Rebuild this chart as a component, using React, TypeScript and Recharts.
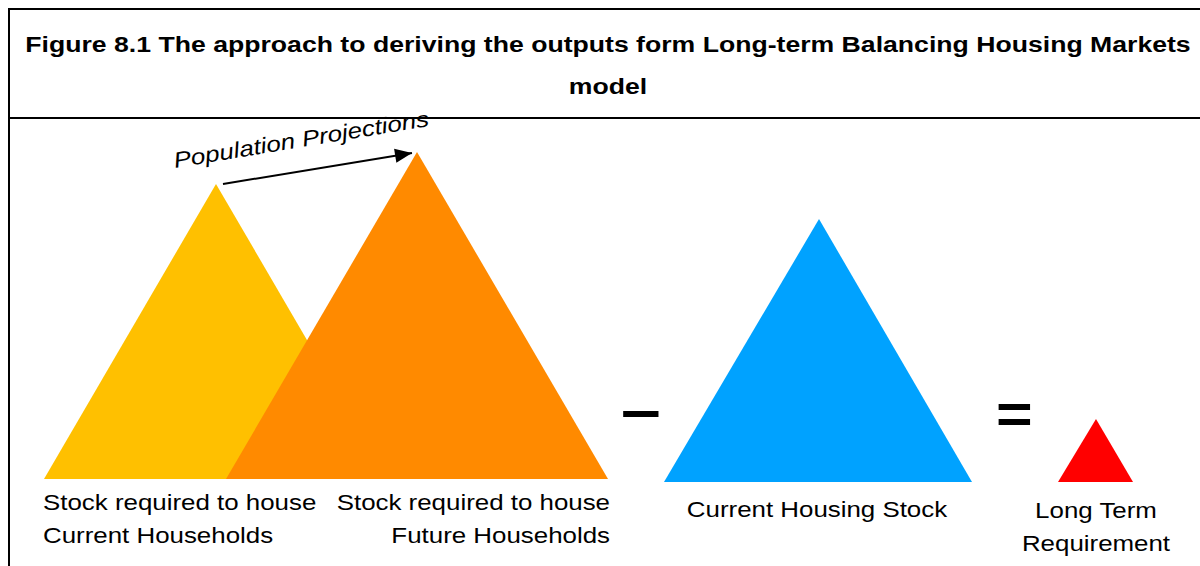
import React from 'react'
import { ComposedChart, Area, Line, XAxis, YAxis } from 'recharts'

// Triangle corners (x across, y down from the top edge)
const yellowX = [44, 216, 388]
const yellowY = [479, 184, 479]
const orangeX = [226, 417, 608]
const orangeY = [479, 152, 479]
const blueX = [664, 819, 972]
const blueY = [482, 219, 482]
const redX = [1058, 1096, 1133]
const redY = [482, 419, 482]
const arrowX = [223, 412]
const arrowY = [184, 153]

const titleLines = [
  'Figure 8.1 The approach to deriving the outputs form Long-term Balancing Housing Markets',
  'model',
]

type Row = { x: number; [k: string]: number }

function buildRows() {
  const rows: Row[] = []
  const add = (key: string, xs: number[], ys: number[]) =>
    xs.forEach((x, i) => rows.push({ x, [key]: ys[i] }))
  add('yellow', yellowX, yellowY)
  add('orange', orangeX, orangeY)
  add('blue', blueX, blueY)
  add('red', redX, redY)
  add('arrow', arrowX, arrowY)
  return rows.sort((a, b) => a.x - b.x)
}

const rows = buildRows()

const font = '"Liberation Sans", Arial, sans-serif'

function ArrowHead(props: any) {
  const { cx, cy, payload } = props
  if (cx == null || cy == null || payload?.x !== arrowX[1]) return <g key={`d-${props.index}`} />
  const ang = Math.atan2(arrowY[1] - arrowY[0], arrowX[1] - arrowX[0])
  const len = 17
  const half = 7
  const bx = cx - len * Math.cos(ang)
  const by = cy - len * Math.sin(ang)
  const px = -Math.sin(ang) * half
  const py = Math.cos(ang) * half
  return (
    <polygon
      key={`d-${props.index}`}
      points={`${cx},${cy} ${bx + px},${by + py} ${bx - px},${by - py}`}
      fill="#000"
    />
  )
}

// the source picture is stretched sideways, so text gets a scaleX
const label = (style: React.CSSProperties, origin = 'left'): React.CSSProperties => ({
  position: 'absolute',
  fontFamily: font,
  fontSize: 22.5,
  lineHeight: '33px',
  color: '#000',
  whiteSpace: 'nowrap',
  transform: 'scaleX(1.15)',
  transformOrigin: `${origin} center`,
  ...style,
})

export default function App() {
  return (
    <div
      style={{
        position: 'absolute',
        left: 0,
        top: 0,
        width: 1200,
        height: 566,
        overflow: 'hidden',
        background: '#fff',
      }}
    >
      {/* title box */}
      <div
        style={{
          position: 'absolute',
          left: 8,
          top: 8,
          width: 1196,
          height: 107,
          border: '2px solid #000',
        }}
      />
      <div style={{ position: 'absolute', left: 8, top: 117, width: 2, height: 449, background: '#000' }} />
      <div
        style={{
          position: 'absolute',
          left: 10,
          top: 24,
          width: 1196,
          textAlign: 'center',
          fontFamily: font,
          fontWeight: 'bold',
          fontSize: 22.5,
          lineHeight: '42px',
          transform: 'scaleX(1.183)',
          transformOrigin: '598px center',
        }}
      >
        {titleLines.map((t) => (
          <div key={t}>{t}</div>
        ))}
      </div>

      <div style={{ position: 'absolute', left: 0, top: 0 }}>
        <ComposedChart width={1200} height={566} data={rows} margin={{ top: 0, right: 0, bottom: 0, left: 0 }}>
          <XAxis dataKey="x" type="number" domain={[0, 1200]} hide />
          <YAxis type="number" domain={[0, 566]} reversed hide />
          <Area
            dataKey="yellow"
            type="linear"
            baseValue={yellowY[0]}
            fill="#FFC000"
            fillOpacity={1}
            stroke="none"
            connectNulls
            dot={false}
            activeDot={false}
            isAnimationActive={false}
          />
          <Area
            dataKey="orange"
            type="linear"
            baseValue={orangeY[0]}
            fill="#FF8A00"
            fillOpacity={1}
            stroke="none"
            connectNulls
            dot={false}
            activeDot={false}
            isAnimationActive={false}
          />
          <Area
            dataKey="blue"
            type="linear"
            baseValue={blueY[0]}
            fill="#00A2FF"
            fillOpacity={1}
            stroke="none"
            connectNulls
            dot={false}
            activeDot={false}
            isAnimationActive={false}
          />
          <Area
            dataKey="red"
            type="linear"
            baseValue={redY[0]}
            fill="#FF0000"
            fillOpacity={1}
            stroke="none"
            connectNulls
            dot={false}
            activeDot={false}
            isAnimationActive={false}
          />
          <Line
            dataKey="arrow"
            type="linear"
            stroke="#000"
            strokeWidth={2}
            connectNulls
            dot={ArrowHead}
            activeDot={false}
            isAnimationActive={false}
          />
        </ComposedChart>
      </div>

      <div
        style={{
          position: 'absolute',
          left: 175,
          top: 149,
          fontFamily: font,
          fontSize: 22,
          lineHeight: '24px',
          fontStyle: 'italic',
          whiteSpace: 'nowrap',
          transform: 'rotate(-9.4deg) scaleX(1.18)',
          transformOrigin: '0 19px',
        }}
      >
        Population Projections
      </div>

      <div style={label({ left: 43, top: 486 })}>
        Stock required to house
        <br />
        Current Households
      </div>
      <div style={label({ left: 310, width: 300, top: 486, textAlign: 'right' }, 'right')}>
        Stock required to house
        <br />
        Future Households
      </div>
      <div style={label({ left: 667, width: 300, top: 493, textAlign: 'center' }, 'center')}>
        Current Housing Stock
      </div>
      <div style={label({ left: 996, width: 200, top: 494, textAlign: 'center' }, 'center')}>
        Long Term
        <br />
        Requirement
      </div>

      <div
        style={{
          position: 'absolute',
          left: 621,
          top: 378,
          fontFamily: font,
          fontWeight: 'bold',
          fontSize: 62,
          lineHeight: '62px',
          transform: 'scaleX(1.15)',
          transformOrigin: 'left center',
        }}
      >
        –
      </div>
      <div
        style={{
          position: 'absolute',
          left: 996,
          top: 386,
          fontFamily: font,
          fontWeight: 'bold',
          fontSize: 56,
          lineHeight: '56px',
          transform: 'scaleX(1.12)',
          transformOrigin: 'left center',
        }}
      >
        =
      </div>
    </div>
  )
}
